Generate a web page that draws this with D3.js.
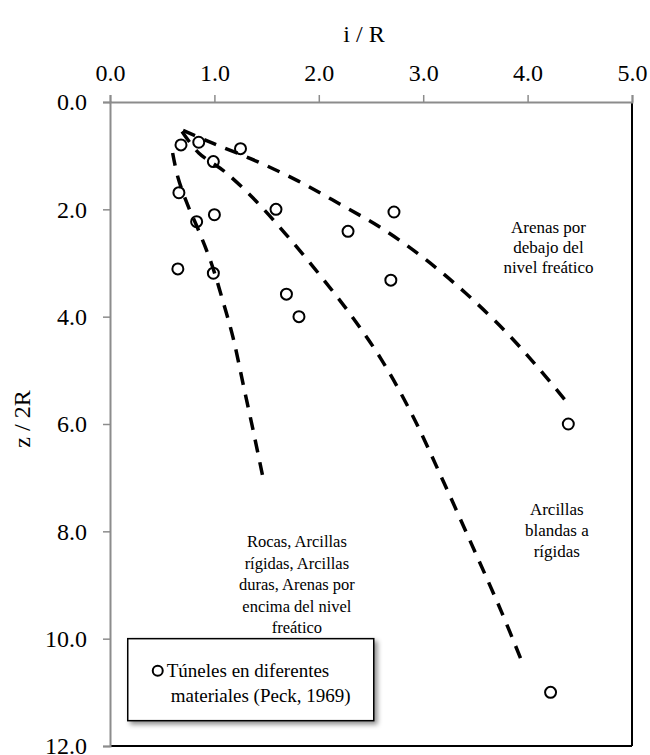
<!DOCTYPE html>
<html>
<head>
<meta charset="utf-8">
<script src="https://cdn.jsdelivr.net/npm/d3@7"></script>
<style>
  body { margin: 0; background: #fff; }
  text { font-family: "Liberation Serif", "Times New Roman", serif; fill: #000; }
</style>
</head>
<body>
<div id="chart"></div>
<script>
var svgWidth = 650;
var svgHeight = 755;

var margin = { top: 102, right: 18, bottom: 9, left: 110 };
var width = svgWidth - margin.left - margin.right;
var height = svgHeight - margin.top - margin.bottom;

// tunnel observations (Peck, 1969): i/R and z/2R
var pointsX = [0.68, 0.85, 1.25, 0.99, 0.66, 1.00, 0.83, 1.59, 2.28, 2.72, 0.65, 0.99, 2.69, 1.69, 1.81, 4.39, 4.22];
var pointsY = [0.80, 0.75, 0.87, 1.11, 1.69, 2.10, 2.23, 2.00, 2.41, 2.05, 3.11, 3.19, 3.32, 3.58, 4.00, 6.00, 11.00];

// dashed boundary curves
var rocasCurve = [[0.60, 0.95], [0.65, 1.4], [0.74, 1.9], [0.85, 2.4], [0.97, 3.0], [1.08, 3.7],
  [1.18, 4.4], [1.28, 5.3], [1.38, 6.2], [1.46, 6.95]];
var arcillasCurve = [[0.69, 0.55], [0.85, 0.95], [1.1, 1.3], [1.4, 1.85], [1.7, 2.5], [2.0, 3.2],
  [2.3, 3.95], [2.6, 4.8], [2.9, 5.85], [3.2, 7.1], [3.5, 8.4], [3.75, 9.5], [3.95, 10.45]];
var arenasCurve = [[0.70, 0.53], [1.0, 0.78], [1.4, 1.1], [1.8, 1.47], [2.2, 1.9], [2.6, 2.35],
  [3.0, 2.9], [3.4, 3.55], [3.8, 4.3], [4.1, 4.95], [4.4, 5.65]];

var xTicks = [0, 1, 2, 3, 4, 5];
var yTicks = [0, 2, 4, 6, 8, 10, 12];

var arenasLabel = ["Arenas por", "debajo del", "nivel freático"];
var arcillasLabel = ["Arcillas", "blandas a", "rígidas"];
var rocasLabel = ["Rocas, Arcillas", "rígidas, Arcillas", "duras, Arenas por", "encima del nivel", "freático"];
var legendLabel = ["Túneles en diferentes", "materiales (Peck, 1969)"];

var svg = d3.select("#chart")
  .append("svg")
  .attr("width", svgWidth)
  .attr("height", svgHeight);

var defs = svg.append("defs");
var shadow = defs.append("filter")
  .attr("id", "shadow")
  .attr("x", "-10%").attr("y", "-10%")
  .attr("width", "130%").attr("height", "140%");
shadow.append("feDropShadow")
  .attr("dx", 3).attr("dy", 3)
  .attr("stdDeviation", 2.5)
  .attr("flood-color", "#000")
  .attr("flood-opacity", 0.45);

var chartGroup = svg.append("g")
  .attr("transform", `translate(${margin.left}, ${margin.top})`);

var xScale = d3.scaleLinear().domain([0, 5]).range([0, width]);
var yScale = d3.scaleLinear().domain([0, 12]).range([0, height]);

// bottom and right frame lines are black
chartGroup.append("line")
  .attr("x1", 0).attr("x2", width)
  .attr("y1", height).attr("y2", height)
  .attr("stroke", "#000").attr("stroke-width", 2);
chartGroup.append("line")
  .attr("x1", width).attr("x2", width)
  .attr("y1", 0).attr("y2", height)
  .attr("stroke", "#000").attr("stroke-width", 2);

// top axis
var topAxis = chartGroup.append("g")
  .call(d3.axisTop(xScale).tickValues(xTicks).tickFormat(d3.format(".1f")).tickSizeOuter(0).tickSize(7).tickPadding(14));

// left axis
var leftAxis = chartGroup.append("g")
  .call(d3.axisLeft(yScale).tickValues(yTicks).tickFormat(d3.format(".1f")).tickSizeOuter(0).tickSize(7).tickPadding(16));

[topAxis, leftAxis].forEach(function(ax) {
  ax.select(".domain").attr("stroke", "#8c8c8c").attr("stroke-width", 2);
  ax.selectAll(".tick line").attr("stroke", "#8c8c8c").attr("stroke-width", 1.5);
  ax.selectAll(".tick text")
    .attr("font-size", 24)
    .attr("fill", "#000");
});

// axis titles
svg.append("text")
  .attr("x", 364)
  .attr("y", 42)
  .attr("text-anchor", "middle")
  .attr("font-size", 24)
  .text("i / R");

svg.append("text")
  .attr("transform", `translate(30, ${margin.top + yScale(6) - 5}) rotate(-90)`)
  .attr("text-anchor", "middle")
  .attr("font-size", 24)
  .text("z / 2R");

// dashed curves
var line = d3.line()
  .x(d => xScale(d[0]))
  .y(d => yScale(d[1]))
  .curve(d3.curveCatmullRom.alpha(0.5));

chartGroup.selectAll(".curve")
  .data([rocasCurve, arcillasCurve, arenasCurve])
  .enter()
  .append("path")
  .classed("curve", true)
  .attr("d", line)
  .attr("fill", "none")
  .attr("stroke", "#000")
  .attr("stroke-width", 3.5)
  .attr("stroke-dasharray", "13,10");

// data points
chartGroup.selectAll(".pt")
  .data(pointsX)
  .enter()
  .append("circle")
  .classed("pt", true)
  .attr("cx", d => xScale(d))
  .attr("cy", (d, i) => yScale(pointsY[i]))
  .attr("r", 5.5)
  .attr("fill", "none")
  .attr("stroke", "#000")
  .attr("stroke-width", 2);

// zone labels
function addLabel(lines, cx, cy, size, lh) {
  var t = chartGroup.append("text")
    .attr("text-anchor", "middle")
    .attr("font-size", size);
  lines.forEach(function(s, i) {
    t.append("tspan")
      .attr("x", xScale(cx))
      .attr("y", yScale(cy) + i * lh)
      .text(s);
  });
}
addLabel(arenasLabel, 4.2, 2.45, 17, 20);
addLabel(arcillasLabel, 4.28, 7.7, 17, 21);
addLabel(rocasLabel, 1.79, 8.3, 16.5, 21.5);

// legend
var legend = chartGroup.append("g")
  .attr("transform", `translate(${xScale(0.17)}, ${yScale(10.0)})`);
legend.append("rect")
  .attr("width", 246)
  .attr("height", 82)
  .attr("fill", "#fff")
  .attr("stroke", "#000")
  .attr("stroke-width", 1.5)
  .attr("filter", "url(#shadow)");
legend.append("circle")
  .attr("cx", 30)
  .attr("cy", 32)
  .attr("r", 5)
  .attr("fill", "none")
  .attr("stroke", "#000")
  .attr("stroke-width", 2);
var legendText = legend.append("text")
  .attr("font-size", 19);
legendLabel.forEach(function(s, i) {
  legendText.append("tspan")
    .attr("x", i === 0 ? 39 : 43)
    .attr("y", 38 + i * 25)
    .text(s);
});
</script>
</body>
</html>
